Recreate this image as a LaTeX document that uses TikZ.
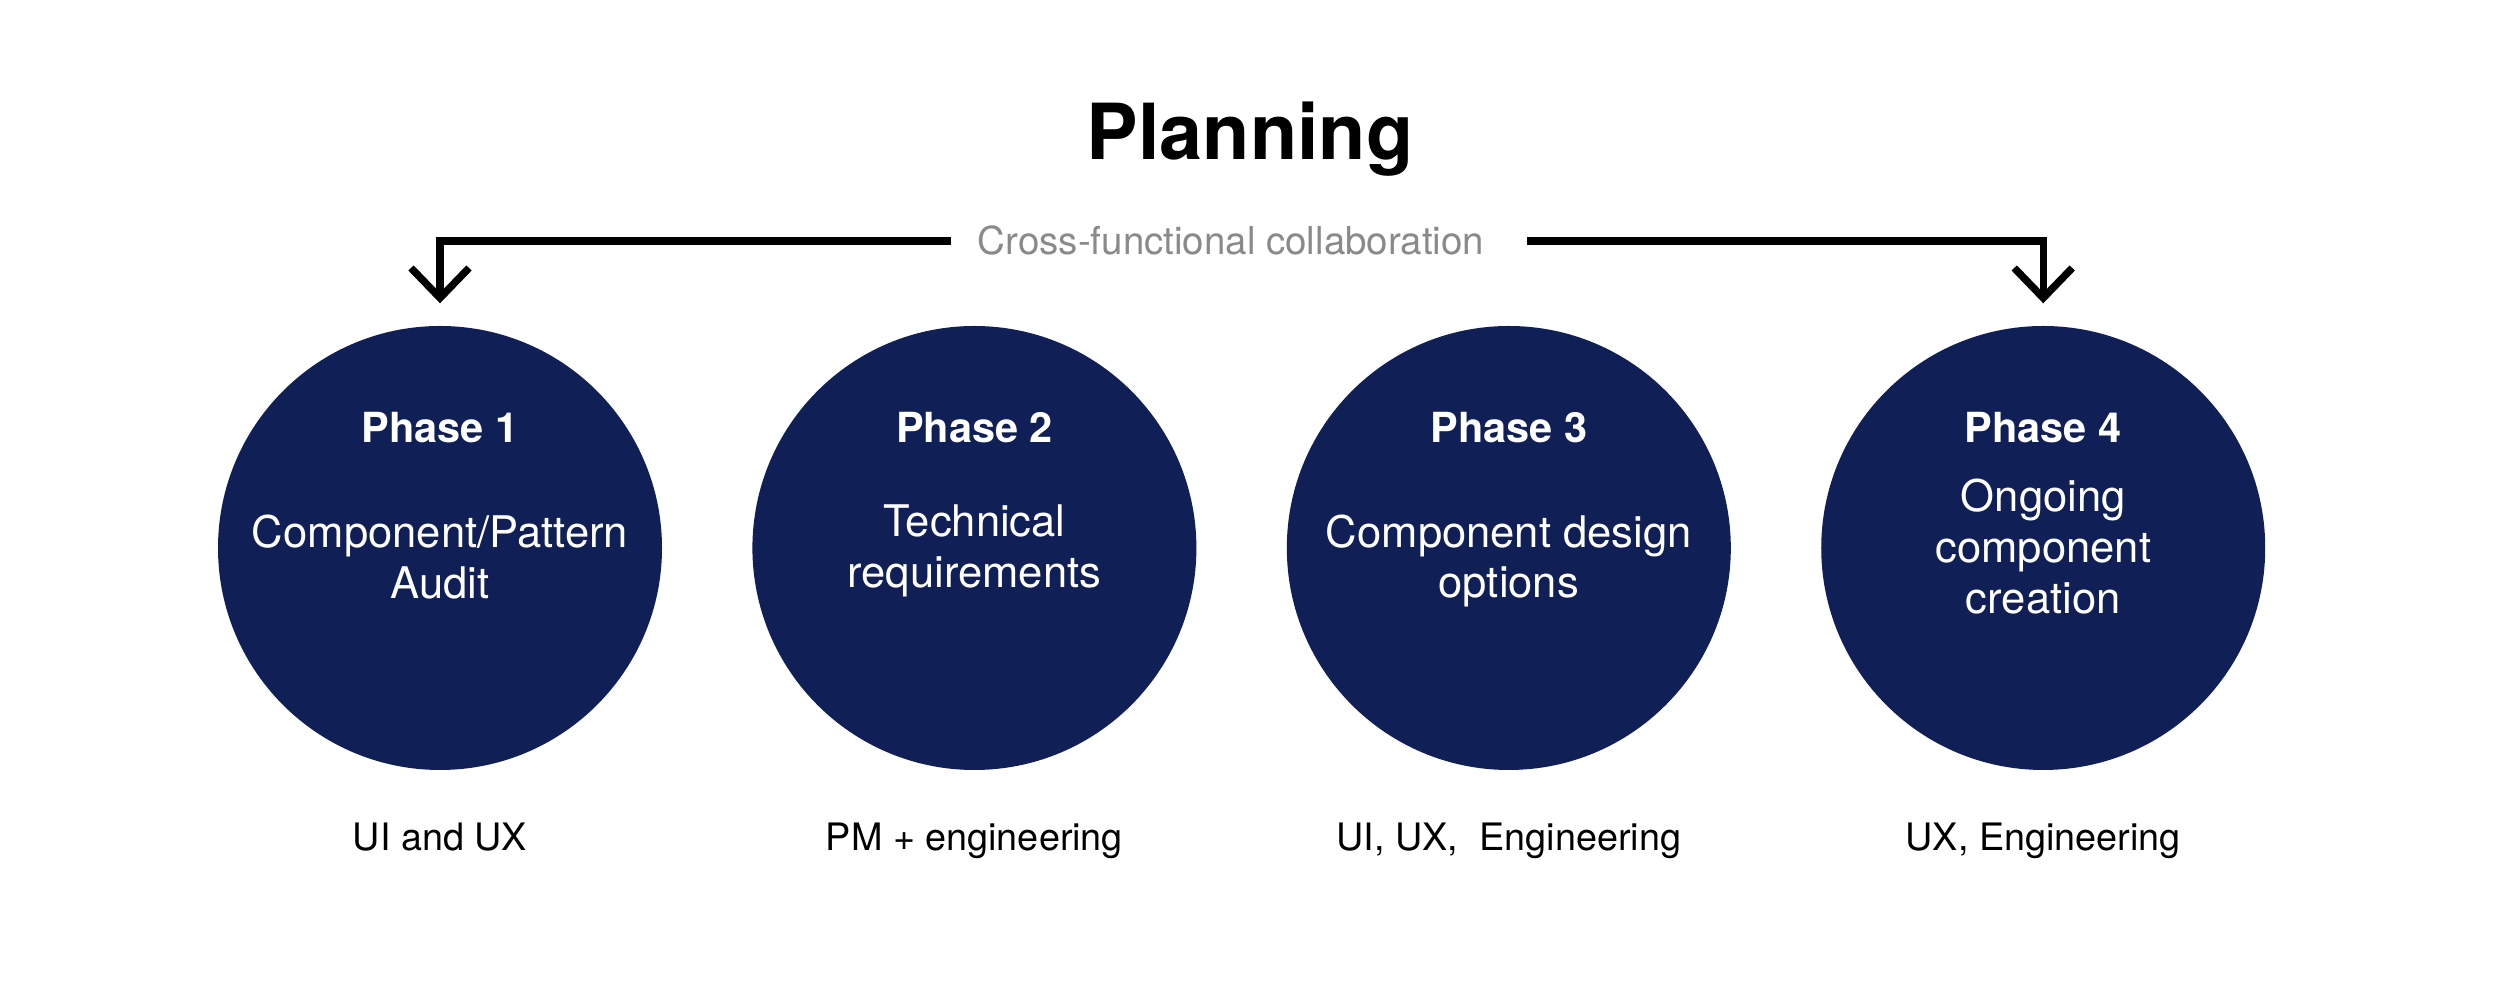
\documentclass[tikz,border=0pt]{standalone}
\usepackage{fontspec}
\setmainfont{TeX Gyre Heros}
\usetikzlibrary{positioning,arrows.meta}

\definecolor{phasenavy}{RGB}{17,31,87}
\definecolor{notegray}{RGB}{138,138,138}

\begin{document}
\begin{tikzpicture}[
node distance=0.89cm,
phase/.style={
    circle,
    fill=phasenavy,
    minimum size=4.44cm,
    inner sep=0pt
},
phasetitle/.style={
    text=white,
    anchor=base,
    inner sep=0pt,
    font=\fontsize{11.8}{13}\selectfont\bfseries
},
phasetext/.style={
    text=white,
    align=center,
    inner sep=0pt,
    font=\fontsize{12.4}{14.4}\selectfont
},
role/.style={
    anchor=base,
    inner sep=0pt,
    font=\fontsize{10.75}{13}\selectfont
},
heading/.style={
    anchor=base,
    inner sep=0pt,
    font=\fontsize{22}{26}\selectfont\bfseries
},
note/.style={
    text=notegray,
    anchor=base,
    inner xsep=0.26cm,
    inner ysep=0pt,
    font=\fontsize{10.95}{13}\selectfont
},
link/.style={
    line width=2.1pt,
    shorten >=0.22cm,
    -{Straight Barb[length=0.3cm,width=0.58cm]}
}
]

\fill[white] (0,0) rectangle (25,-10.03);

\node[heading] (title) at (12.50,-1.60) {Planning};
\node[note] (sub) at (12.31,-2.55) {Cross-functional collaboration};

% the four phases
\node[phase] (p1) at (4.40,-5.48) {};
\node[phase, right=of p1] (p2) {};
\node[phase, right=of p2] (p3) {};
\node[phase, right=of p3] (p4) {};

\node[phasetitle] (h1) at ([yshift=1.05cm]p1.center) {Phase 1};
\node[phasetitle] (h2) at ([yshift=1.05cm]p2.center) {Phase 2};
\node[phasetitle] (h3) at ([yshift=1.05cm]p3.center) {Phase 3};
\node[phasetitle] (h4) at ([yshift=1.05cm]p4.center) {Phase 4};

\node[phasetext] (d1) at ([yshift=-0.09cm]p1.center) {Component/Pattern\\Audit};
\node[phasetext] (d2) at ([yshift=-0.03cm]p2.center) {Technical\\requirements};
\node[phasetext] (d3) at ([yshift=-0.13cm]p3.center) {Component design\\options};
\node[phasetext] (d4) at ([yshift=0.015cm]p4.center) {Ongoing\\component\\creation};

% who is involved
\node[role] (r1) at ([yshift=-0.80cm]p1.south) {UI and UX};
\node[role] (r2) at ([yshift=-0.80cm]p2.south) {PM + engineering};
\node[role] (r3) at ([yshift=-0.80cm]p3.south) {UI, UX,\ \ Engineering};
\node[role] (r4) at ([yshift=-0.80cm]p4.south) {UX, Engineering};

\draw[link] (sub.west) -| (p1.north);
\draw[link, shorten <=0.16cm] (sub.east) -| (p4.north);

\end{tikzpicture}
\end{document}
